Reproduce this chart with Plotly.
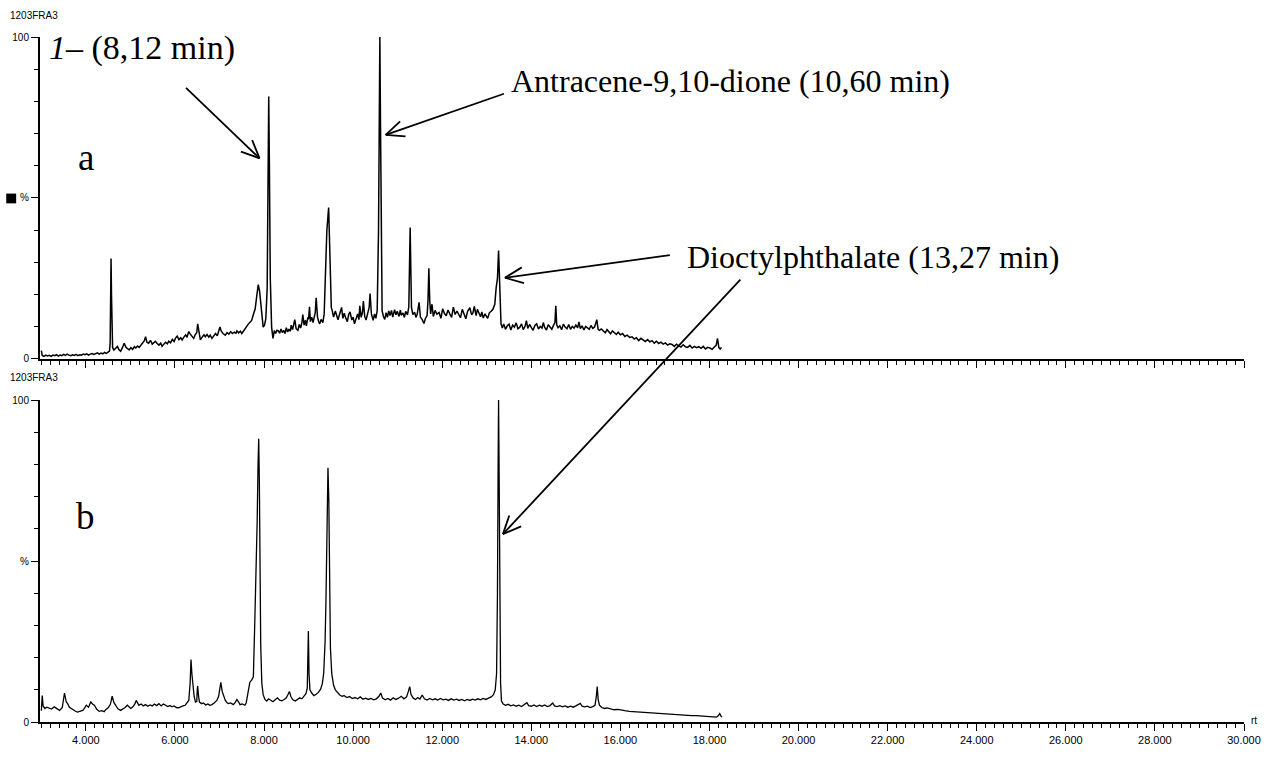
import math
import plotly.graph_objects as go

# ---- chromatogram (a): retention time (min) / relative intensity (%) ----
A_TIME = [
    3.00, 3.02, 3.06, 3.10, 3.14, 3.18, 3.22, 3.26, 3.30, 3.34, 3.38, 3.42, 3.46, 3.50, 3.54,
    3.58, 3.62, 3.66, 3.70, 3.74, 3.78, 3.82, 3.86, 3.90, 3.94, 3.98, 4.02, 4.06, 4.10, 4.14,
    4.18, 4.22, 4.26, 4.30, 4.34, 4.38, 4.42, 4.46, 4.50, 4.53, 4.545, 4.555, 4.565, 4.575, 4.585,
    4.60, 4.63, 4.67, 4.71, 4.74, 4.78, 4.82, 4.86, 4.90, 4.94, 4.97, 5.01, 5.05, 5.09, 5.12,
    5.16, 5.20, 5.23, 5.27, 5.31, 5.34, 5.37, 5.41, 5.45, 5.49, 5.53, 5.56, 5.60, 5.64, 5.68,
    5.71, 5.75, 5.79, 5.83, 5.86, 5.90, 5.94, 5.98, 6.01, 6.05, 6.09, 6.13, 6.16, 6.20, 6.24,
    6.27, 6.31, 6.34, 6.38, 6.42, 6.45, 6.49, 6.51, 6.54, 6.57, 6.61, 6.65, 6.68, 6.72, 6.76,
    6.79, 6.83, 6.87, 6.91, 6.95, 6.98, 7.01, 7.04, 7.08, 7.13, 7.17, 7.21, 7.25, 7.29, 7.33,
    7.37, 7.39, 7.43, 7.47, 7.50, 7.54, 7.58, 7.61, 7.65, 7.69, 7.72, 7.76, 7.80, 7.84, 7.87,
    7.90, 7.94, 7.98, 8.01, 8.04, 8.07, 8.09, 8.105, 8.12, 8.14, 8.17, 8.20, 8.23, 8.26, 8.29,
    8.32, 8.35, 8.38, 8.41, 8.44, 8.47, 8.50, 8.53, 8.56, 8.59, 8.61, 8.64, 8.67, 8.69, 8.72,
    8.76, 8.79, 8.82, 8.85, 8.87, 8.90, 8.93, 8.95, 8.98, 9.00, 9.02, 9.04, 9.07, 9.10, 9.13,
    9.15, 9.17, 9.20, 9.23, 9.25, 9.28, 9.32, 9.35, 9.38, 9.41, 9.45, 9.47, 9.49, 9.51, 9.53,
    9.56, 9.60, 9.63, 9.66, 9.70, 9.74, 9.77, 9.80, 9.83, 9.87, 9.90, 9.93, 9.97, 10.00, 10.03,
    10.07, 10.10, 10.13, 10.15, 10.18, 10.21, 10.23, 10.26, 10.29, 10.31, 10.34, 10.36, 10.38, 10.41, 10.45,
    10.48, 10.51, 10.54, 10.57, 10.585, 10.60, 10.615, 10.63, 10.65, 10.68, 10.71, 10.74, 10.77, 10.80, 10.83,
    10.86, 10.89, 10.93, 10.96, 10.99, 11.03, 11.06, 11.08, 11.12, 11.15, 11.18, 11.22, 11.25, 11.27, 11.28,
    11.295, 11.31, 11.34, 11.38, 11.41, 11.44, 11.48, 11.51, 11.55, 11.59, 11.62, 11.66, 11.68, 11.70, 11.72,
    11.74, 11.77, 11.80, 11.84, 11.88, 11.93, 11.97, 12.01, 12.05, 12.09, 12.13, 12.17, 12.21, 12.25, 12.29,
    12.33, 12.37, 12.41, 12.45, 12.49, 12.53, 12.57, 12.62, 12.66, 12.69, 12.72, 12.76, 12.79, 12.82, 12.86,
    12.89, 12.92, 12.96, 12.99, 13.02, 13.06, 13.10, 13.14, 13.18, 13.21, 13.24, 13.265, 13.28, 13.30, 13.32,
    13.35, 13.38, 13.42, 13.46, 13.50, 13.54, 13.58, 13.62, 13.66, 13.70, 13.74, 13.78, 13.82, 13.86, 13.89,
    13.92, 13.96, 14.00, 14.04, 14.08, 14.12, 14.16, 14.20, 14.24, 14.27, 14.30, 14.34, 14.38, 14.42, 14.46,
    14.50, 14.53, 14.55, 14.57, 14.60, 14.64, 14.68, 14.72, 14.76, 14.80, 14.84, 14.88, 14.92, 14.96, 15.00,
    15.04, 15.07, 15.10, 15.14, 15.18, 15.22, 15.26, 15.30, 15.34, 15.38, 15.42, 15.45, 15.47, 15.50, 15.53,
    15.57, 15.62, 15.66, 15.70, 15.74, 15.78, 15.82, 15.86, 15.91, 15.95, 16.00, 16.05, 16.10, 16.15, 16.21,
    16.26, 16.31, 16.36, 16.41, 16.46, 16.51, 16.56, 16.61, 16.66, 16.71, 16.76, 16.81, 16.86, 16.91, 16.96,
    17.01, 17.06, 17.11, 17.16, 17.21, 17.26, 17.31, 17.36, 17.41, 17.46, 17.51, 17.56, 17.61, 17.66, 17.71,
    17.76, 17.81, 17.86, 17.91, 17.96, 18.01, 18.06, 18.11, 18.15, 18.18, 18.21, 18.24, 18.27,
]
A_INT = [
    2.6, 1.1, 0.8, 1.2, 0.9, 1.1, 0.8, 1.2, 1.0, 1.3, 0.9, 1.2, 1.0, 1.4, 1.1,
    1.5, 1.2, 1.0, 1.3, 1.1, 1.4, 1.0, 1.3, 1.2, 1.5, 1.3, 1.6, 1.2, 1.5, 1.7,
    1.4, 1.6, 1.9, 1.5, 1.8, 1.6, 2.0, 1.7, 2.1, 2.4, 5.0, 17.0, 31.2, 20.0, 7.0,
    3.5, 2.8, 3.4, 3.9, 2.9, 2.4, 3.5, 4.9, 3.6, 3.0, 2.8, 3.5, 3.0, 3.8, 3.4,
    4.0, 3.6, 4.2, 5.0, 5.6, 6.9, 5.2, 4.9, 5.8, 4.6, 5.2, 5.5, 4.8, 4.3, 4.9,
    3.9, 4.6, 5.2, 4.7, 5.5, 5.0, 6.1, 5.4, 6.4, 7.1, 6.0, 6.6, 5.9, 6.8, 7.5,
    6.7, 8.5, 7.8, 7.0, 6.4, 7.4, 8.2, 10.9, 7.5, 5.9, 6.8, 7.5, 6.9, 7.6, 6.8,
    7.4, 6.4, 7.3, 7.9, 7.2, 8.4, 9.9, 8.6, 7.9, 7.4, 8.2, 7.7, 8.5, 7.9, 8.3,
    8.0, 8.7, 8.1, 8.6, 7.9, 8.8, 9.6, 10.4, 10.9, 11.5, 11.9, 13.8, 15.5, 20.0, 23.1,
    21.0, 16.0, 9.9, 10.5, 12.5, 22.0, 55.0, 81.5, 60.0, 25.0, 9.9, 6.4, 8.8, 7.9, 8.9,
    8.7, 8.0, 9.3, 8.2, 8.9, 7.9, 9.7, 8.4, 9.3, 8.6, 10.5, 9.1, 10.8, 12.2, 9.4,
    8.9, 10.7, 9.6, 11.3, 13.8, 10.5, 12.0, 10.3, 12.6, 12.4, 16.2, 11.6, 13.0, 11.3, 13.7,
    14.5, 19.0, 13.0, 11.4, 10.9, 12.3, 11.3, 14.0, 29.0, 40.0, 47.0, 38.0, 26.0, 16.0, 15.0,
    13.0, 14.9, 13.6, 12.2, 14.1, 16.0, 12.6, 14.2, 12.9, 11.6, 13.8, 14.6, 12.1, 13.0, 10.9,
    12.6, 14.0, 12.2, 16.5, 12.9, 14.5, 18.0, 13.2, 12.1, 13.4, 15.0, 16.0, 20.3, 14.0, 12.0,
    14.0, 12.6, 15.0, 40.0, 80.0, 100.0, 72.0, 32.0, 15.0, 13.2, 12.3, 14.4, 12.9, 14.9, 13.5,
    15.1, 13.0, 15.3, 13.7, 14.8, 13.2, 15.2, 13.6, 14.3, 12.9, 14.8, 13.7, 16.2, 30.0, 40.8,
    28.0, 16.0, 13.8, 14.5, 12.9, 14.0, 17.6, 13.0, 12.2, 11.0, 12.5, 13.5, 18.0, 28.2, 18.0,
    14.0, 17.0, 13.2, 15.1, 13.9, 14.4, 12.6, 15.6, 14.1, 13.4, 15.2, 14.0, 12.9, 16.1, 13.8,
    14.9, 13.6, 12.8, 15.4, 14.2, 12.5, 14.8, 15.9, 13.7, 14.3, 16.3, 13.5, 15.4, 14.6, 13.1,
    14.6, 12.7, 14.0, 13.3, 12.6, 14.4, 14.8, 15.5, 17.0, 22.0, 25.0, 33.7, 28.0, 16.0, 10.9,
    9.6, 10.9, 9.2, 10.3, 10.8, 9.0, 10.5, 9.9, 11.2, 9.4, 9.8, 10.9, 9.1, 10.2, 11.9,
    9.5, 10.7, 9.9, 8.9, 10.4, 10.9, 9.3, 10.1, 9.6, 11.3, 9.8, 9.0, 10.6, 10.0, 9.2,
    10.5, 11.3, 16.5, 10.6, 9.7, 10.3, 9.1, 10.8, 9.9, 9.4, 10.7, 9.2, 10.1, 9.6, 10.5,
    9.7, 11.5, 9.4, 10.3, 9.0, 10.1, 9.6, 9.2, 10.4, 9.5, 9.9, 11.0, 12.2, 9.2, 8.9,
    9.3, 8.6, 8.1, 9.1, 8.4, 7.8, 8.7, 8.2, 7.6, 8.3, 7.5, 7.9, 7.0, 7.4, 6.7,
    6.9, 6.2, 6.6, 5.7, 6.4, 5.9, 5.4, 6.0, 5.3, 5.7, 4.9, 5.5, 4.8, 5.2, 4.6,
    5.0, 4.3, 4.7, 4.5, 3.9, 4.6, 4.1, 3.7, 4.4, 3.8, 3.6, 4.2, 3.4, 3.9, 3.5,
    3.8, 3.3, 3.9, 3.1, 3.6, 3.4, 3.0, 3.7, 4.2, 6.4, 3.6, 3.1, 3.6,
]

# ---- chromatogram (b) ----
B_TIME = [
    3.00, 3.02, 3.04, 3.08, 3.12, 3.18, 3.23, 3.29, 3.35, 3.41, 3.47, 3.52, 3.56, 3.59, 3.63,
    3.67, 3.72, 3.76, 3.81, 3.87, 3.93, 3.97, 4.01, 4.06, 4.11, 4.15, 4.19, 4.24, 4.30, 4.36,
    4.41, 4.45, 4.50, 4.55, 4.59, 4.63, 4.67, 4.72, 4.78, 4.83, 4.88, 4.93, 4.97, 5.01, 5.06,
    5.10, 5.13, 5.16, 5.19, 5.24, 5.29, 5.34, 5.39, 5.44, 5.49, 5.54, 5.59, 5.64, 5.69, 5.74,
    5.79, 5.84, 5.89, 5.93, 5.98, 6.03, 6.08, 6.13, 6.18, 6.23, 6.27, 6.31, 6.34, 6.36, 6.38,
    6.40, 6.43, 6.46, 6.49, 6.50, 6.51, 6.53, 6.55, 6.60, 6.64, 6.69, 6.74, 6.78, 6.83, 6.88,
    6.94, 6.98, 7.01, 7.03, 7.06, 7.10, 7.13, 7.17, 7.20, 7.25, 7.31, 7.35, 7.39, 7.43, 7.46,
    7.51, 7.57, 7.60, 7.63, 7.66, 7.68, 7.72, 7.76, 7.79, 7.82, 7.845, 7.865, 7.88, 7.895, 7.91,
    7.925, 7.95, 7.98, 8.02, 8.06, 8.10, 8.15, 8.20, 8.25, 8.30, 8.35, 8.40, 8.45, 8.50, 8.54,
    8.57, 8.60, 8.64, 8.70, 8.75, 8.80, 8.85, 8.90, 8.94, 8.97, 8.985, 8.995, 9.01, 9.03, 9.07,
    9.12, 9.17, 9.22, 9.27, 9.31, 9.34, 9.37, 9.39, 9.41, 9.435, 9.455, 9.47, 9.49, 9.52, 9.56,
    9.60, 9.65, 9.70, 9.75, 9.80, 9.86, 9.92, 9.98, 10.04, 10.10, 10.16, 10.22, 10.28, 10.34, 10.40,
    10.46, 10.52, 10.58, 10.62, 10.66, 10.72, 10.78, 10.84, 10.90, 10.96, 11.02, 11.08, 11.14, 11.20, 11.24,
    11.27, 11.30, 11.35, 11.40, 11.45, 11.50, 11.55, 11.60, 11.66, 11.72, 11.78, 11.84, 11.90, 11.96, 12.02,
    12.08, 12.14, 12.20, 12.26, 12.32, 12.38, 12.44, 12.50, 12.56, 12.62, 12.68, 12.74, 12.80, 12.86, 12.92,
    12.98, 13.04, 13.10, 13.15, 13.19, 13.22, 13.24, 13.255, 13.265, 13.275, 13.29, 13.31, 13.33, 13.37, 13.42,
    13.48, 13.54, 13.60, 13.66, 13.72, 13.78, 13.84, 13.90, 13.94, 14.00, 14.06, 14.12, 14.18, 14.24, 14.30,
    14.36, 14.42, 14.48, 14.52, 14.58, 14.64, 14.70, 14.76, 14.82, 14.88, 14.94, 15.00, 15.06, 15.10, 15.14,
    15.20, 15.26, 15.32, 15.38, 15.43, 15.46, 15.48, 15.50, 15.53, 15.58, 15.64, 15.70, 15.78, 15.86, 15.94,
    16.02, 16.10, 16.20, 16.30, 16.40, 16.50, 16.60, 16.70, 16.80, 16.90, 17.00, 17.10, 17.20, 17.30, 17.40,
    17.50, 17.60, 17.70, 17.80, 17.90, 18.00, 18.10, 18.16, 18.20, 18.23, 18.26, 18.28,
]
B_INT = [
    3.5, 8.2, 5.0, 4.2, 4.6, 4.3, 4.0, 4.7, 4.1, 3.6, 4.5, 9.0, 6.2, 5.7, 4.6,
    4.2, 3.8, 3.4, 3.1, 3.4, 3.6, 4.3, 5.2, 4.6, 6.2, 5.6, 5.2, 4.0, 3.3, 3.5,
    3.2, 3.9, 4.4, 5.5, 8.0, 6.0, 5.2, 4.1, 3.6, 4.0, 4.5, 5.2, 4.6, 4.2, 4.8,
    5.6, 6.7, 5.8, 5.2, 5.6, 5.0, 5.4, 4.9, 5.3, 5.0, 5.6, 5.1, 5.7, 5.0, 5.6,
    5.2, 4.8, 5.1, 4.7, 5.0, 4.5, 4.4, 4.8, 5.0, 5.2, 5.8, 6.7, 12.0, 19.4, 15.0,
    11.2, 8.0, 6.2, 6.4, 10.0, 11.2, 8.0, 6.2, 5.7, 5.9, 5.3, 5.6, 5.2, 5.4, 5.9,
    6.7, 8.0, 11.0, 12.3, 9.5, 7.6, 6.7, 6.0, 5.7, 5.9, 5.4, 6.0, 7.0, 6.2, 5.4,
    5.6, 5.2, 6.0, 8.2, 11.0, 12.3, 13.0, 14.0, 30.0, 45.0, 62.0, 80.0, 88.0, 74.0, 45.0,
    24.0, 12.0, 8.5, 7.0, 6.5, 7.2, 6.6, 6.3, 6.9, 7.5, 6.8, 6.6, 7.0, 7.5, 8.6,
    9.5, 8.0, 7.0, 6.5, 7.0, 7.5, 7.2, 8.0, 8.8, 10.5, 20.0, 28.3, 15.0, 10.0, 9.0,
    8.2, 8.6, 9.2, 10.2, 12.0, 15.3, 25.0, 37.7, 58.0, 79.0, 68.0, 42.0, 23.0, 15.0, 11.5,
    10.0, 9.0, 8.4, 8.0, 8.2, 7.6, 7.9, 7.3, 7.6, 7.2, 7.8, 7.1, 7.4, 7.0, 7.3,
    6.9, 7.2, 8.0, 9.0, 7.4, 6.9, 7.3, 6.8, 7.5, 7.0, 7.4, 8.0, 7.2, 7.8, 9.5,
    11.0, 8.5, 7.4, 7.0, 7.6, 7.1, 8.4, 7.2, 6.8, 7.3, 6.9, 7.2, 6.8, 7.3, 6.9,
    7.1, 6.7, 7.2, 6.8, 7.1, 6.7, 7.0, 6.6, 7.0, 6.7, 7.1, 6.8, 7.2, 6.9, 7.3,
    7.0, 7.4, 7.8, 8.5, 10.0, 15.0, 40.0, 80.0, 100.0, 82.0, 45.0, 12.0, 6.5, 5.6, 5.2,
    5.5, 5.0, 5.3, 4.9, 5.2, 4.8, 5.3, 6.0, 5.1, 4.9, 5.3, 4.8, 5.2, 4.9, 5.3,
    4.8, 5.1, 5.9, 5.0, 4.8, 5.1, 4.7, 5.0, 4.6, 4.9, 4.6, 5.0, 5.4, 5.8, 4.9,
    4.7, 4.9, 4.5, 4.8, 5.2, 8.0, 11.0, 7.0, 5.2, 4.5, 4.2, 4.4, 4.0, 3.8, 3.9,
    3.6, 3.5, 3.3, 3.2, 3.1, 2.9, 2.8, 2.7, 2.6, 2.5, 2.5, 2.4, 2.3, 2.3, 2.2,
    2.1, 2.0, 2.0, 1.9, 1.8, 1.7, 1.6, 1.5, 2.0, 2.6, 1.8, 1.5,
]

# ---- axis ticks ----
X_MAJOR = list(range(3, 31))
X_LABELS = ["%d.000" % v if v % 2 == 0 else "" for v in X_MAJOR]
X_MINOR = [round(3.0 + 0.2 * i, 1) for i in range(136)]
Y_MAJOR = [0, 50, 100]
Y_LABELS = ["0", "%", "100"]
Y_MINOR = [10, 20, 30, 40, 60, 70, 80, 90]

# ---- page geometry ----
W, H = 1273, 758
ML, MR, MT, MB = 40, 21, 37, 21
PW, PH = W - ML - MR, H - MT - MB

SERIF = "Liberation Serif"
SANS = "Liberation Sans"


def paper(x, y):
    """Page pixel -> paper coordinates."""
    return (x - ML) / PW, (H - MB - y) / PH


def text_note(txt, x, y, size, family, xanchor="left", yanchor="middle"):
    px_, py_ = paper(x, y)
    return dict(text=txt, x=px_, y=py_, xref="paper", yref="paper",
                xanchor=xanchor, yanchor=yanchor, showarrow=False,
                font=dict(family=family, size=size, color="black"))


def arrow(tail, tip, head=20, spread=24, width=1.8):
    """Straight arrow with an open V head, as paper-space line shapes."""
    ang = math.atan2(tail[1] - tip[1], tail[0] - tip[0])
    segs = [(tail, tip)]
    for s in (-1, 1):
        a = ang + s * math.radians(spread)
        segs.append((tip, (tip[0] + head * math.cos(a), tip[1] + head * math.sin(a))))
    shapes = []
    for p0, p1 in segs:
        x0, y0 = paper(*p0)
        x1, y1 = paper(*p1)
        shapes.append(dict(type="line", xref="paper", yref="paper",
                           x0=x0, y0=y0, x1=x1, y1=y1,
                           line=dict(color="black", width=width)))
    return shapes


fig = go.Figure()
fig.add_trace(go.Scatter(x=A_TIME, y=A_INT, mode="lines", xaxis="x2", yaxis="y2",
                         line=dict(color="black", width=1.5), showlegend=False))
fig.add_trace(go.Scatter(x=B_TIME, y=B_INT, mode="lines", xaxis="x", yaxis="y",
                         line=dict(color="black", width=1.3), showlegend=False))

x_common = dict(range=[2.97, 30.0], showline=True, linecolor="black", linewidth=2,
                ticks="outside", ticklen=7, tickwidth=1, tickcolor="black",
                tickmode="array", tickvals=X_MAJOR, ticktext=X_LABELS,
                tickfont=dict(family=SANS, size=11, color="black"),
                showgrid=False, zeroline=False,
                minor=dict(tickmode="array", tickvals=X_MINOR, ticks="outside",
                           ticklen=4, tickwidth=1, tickcolor="black", showgrid=False))
y_common = dict(range=[0, 100], showline=True, linecolor="black", linewidth=2,
                ticks="outside", ticklen=7, tickwidth=1, tickcolor="black",
                tickmode="array", tickvals=Y_MAJOR, ticktext=Y_LABELS,
                tickfont=dict(family=SANS, size=10, color="black"),
                showgrid=False, zeroline=False,
                minor=dict(tickmode="array", tickvals=Y_MINOR, ticks="outside",
                           ticklen=4, tickwidth=1, tickcolor="black", showgrid=False))

fig.update_layout(
    width=W, height=H,
    margin=dict(l=ML, r=MR, t=MT, b=MB, pad=0),
    paper_bgcolor="white", plot_bgcolor="white",
    xaxis=dict(domain=[0, 1], anchor="y", **x_common),
    yaxis=dict(domain=[0, 0.47], anchor="x", **y_common),
    xaxis2=dict(domain=[0, 1], anchor="y2", showticklabels=False, matches="x",
                **{k: v for k, v in x_common.items() if k != "range"}),
    yaxis2=dict(domain=[0.53, 1], anchor="x2", **y_common),
)

notes = [
    text_note("1203FRA3", 8, 15, 10, SANS),
    text_note("1203FRA3", 8, 385, 10, SANS),
    text_note("rt", 1257, 735, 10, SANS),
    text_note("<i>1</i>– (8,12 min)", 47, 48, 34, SERIF),
    text_note("Antracene-9,10-dione (10,60 min)", 512, 82, 32, SERIF),
    text_note("Dioctylphthalate (13,27 min)", 689, 262, 32, SERIF),
    text_note("a", 86, 160, 37, SERIF, xanchor="center"),
    text_note("b", 86, 527, 37, SERIF, xanchor="center"),
]

shapes = []
shapes += arrow((187, 89), (261, 161))
shapes += arrow((507, 95), (388, 137))
shapes += arrow((674, 260), (508, 283))
shapes += arrow((745, 285), (506, 545))
# filled marker square beside the "%" label of panel a
sx0, sy0 = paper(6, 207)
sx1, sy1 = paper(16, 197)
shapes.append(dict(type="rect", xref="paper", yref="paper", x0=sx0, y0=sy0, x1=sx1, y1=sy1,
                   fillcolor="black", line=dict(width=0)))

fig.update_layout(annotations=notes, shapes=shapes)
fig.write_html("out.html")
